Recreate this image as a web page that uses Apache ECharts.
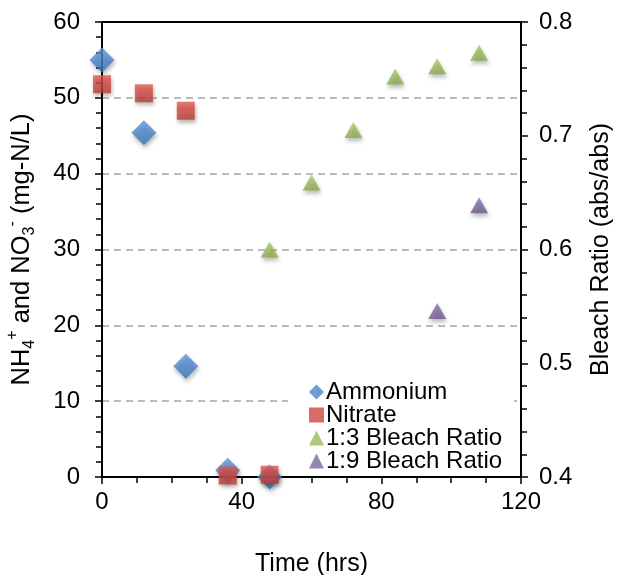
<!DOCTYPE html>
<html>
<head>
<meta charset="utf-8">
<script src="https://cdn.jsdelivr.net/npm/echarts@6/dist/echarts.min.js"></script>
<style>
html,body{margin:0;padding:0;background:#fff;}
#chart{width:619px;height:575px;}
</style>
</head>
<body>
<div id="chart"></div>
<script>
// Data
var ammoniumTime = [0, 12, 24, 36, 48];
var ammoniumValues = [55.0, 45.4, 14.6, 0.9, 0.0];
var nitrateTime = [0, 12, 24, 36, 48];
var nitrateValues = [51.8, 50.6, 48.3, 0.2, 0.3];
var bleach13Time = [48, 60, 72, 84, 96, 108];
var bleach13Values = [0.600, 0.659, 0.705, 0.752, 0.761, 0.773];
var bleach19Time = [96, 108];
var bleach19Values = [0.546, 0.639];
var seriesNames = ['Ammonium', 'Nitrate', '1:3 Bleach Ratio', '1:9 Bleach Ratio'];

function pairs(xs, ys) { return xs.map(function (x, i) { return [x, ys[i]]; }); }
function grad(top, bottom) {
  return new echarts.graphic.LinearGradient(0, 0, 0, 1, [
    { offset: 0, color: top }, { offset: 1, color: bottom }
  ]);
}
var FONT = 'Liberation Sans, Arial, sans-serif';
var shadow = { shadowBlur: 4, shadowColor: 'rgba(0,0,0,0.35)', shadowOffsetY: 3, shadowOffsetX: 1 };
var noShadow = { shadowBlur: 0, shadowOffsetY: 0, shadowOffsetX: 0 };

var chart = echarts.init(document.getElementById('chart'));
chart.setOption({
  animation: false,
  backgroundColor: '#fff',
  textStyle: { fontFamily: FONT, color: '#000' },
  grid: { left: 102, right: 98, top: 22, bottom: 98, containLabel: false, outerBoundsMode: 'none' },
  legend: {
    orient: 'vertical',
    left: 288, top: 377,
    padding: [3, 12, 3, 21],
    backgroundColor: '#fff',
    itemWidth: 15, itemHeight: 15, itemGap: -1,
    textStyle: { fontFamily: FONT, fontSize: 24, color: '#000', padding: [0, 0, 0, -3] },
    data: [
      { name: seriesNames[0], icon: 'diamond', itemStyle: Object.assign({ color: '#4A86C8' }, noShadow) },
      { name: seriesNames[1], icon: 'rect', itemStyle: Object.assign({ color: '#D0463F' }, noShadow) },
      { name: seriesNames[2], icon: 'triangle', itemStyle: Object.assign({ color: '#9BBB59' }, noShadow) },
      { name: seriesNames[3], icon: 'triangle', itemStyle: Object.assign({ color: '#8064A2' }, noShadow) }
    ]
  },
  xAxis: [
    {
      type: 'value', min: 0, max: 120, interval: 40, position: 'bottom',
      name: 'Time (hrs)', nameLocation: 'middle', nameGap: 75,
      nameTextStyle: { fontFamily: FONT, fontSize: 25, color: '#000' },
      axisLine: { show: true, onZero: false, lineStyle: { color: '#000', width: 2 } },
      axisTick: { show: true, inside: false, length: 7, lineStyle: { color: '#000', width: 1.5 } },
      minorTick: { show: true, splitNumber: 4, length: 6, lineStyle: { color: '#000', width: 1.5 } },
      axisLabel: { fontFamily: FONT, fontSize: 24, color: '#000', margin: 13 },
      splitLine: { show: false }
    },
    {
      type: 'value', min: 0, max: 120, interval: 40, position: 'top', z: 5,
      axisLine: { show: true, onZero: false, lineStyle: { color: '#000', width: 2 } },
      axisTick: { show: false }, minorTick: { show: false },
      axisLabel: { show: false }, splitLine: { show: false }
    }
  ],
  yAxis: [
    {
      type: 'value', min: 0, max: 60, interval: 10, position: 'left',
      name: '{m|NH}{sub|4}{sup|+}{m| and NO}{sub|3}{sup|-}{m| (mg-N/L)}',
      nameLocation: 'middle', nameRotate: 90, nameGap: 64,
      nameTextStyle: {
        fontFamily: FONT, color: '#000',
        rich: {
          m: { fontFamily: FONT, fontSize: 25.5, lineHeight: 33, color: '#000' },
          sup: { fontFamily: FONT, fontSize: 16, lineHeight: 16, verticalAlign: 'top', color: '#000' },
          sub: { fontFamily: FONT, fontSize: 16, lineHeight: 16, verticalAlign: 'bottom', color: '#000' }
        }
      },
      axisLine: { show: true, onZero: false, lineStyle: { color: '#000', width: 2 } },
      axisTick: { show: true, inside: false, length: 7, lineStyle: { color: '#000', width: 1.5 } },
      minorTick: { show: true, splitNumber: 5, length: 6, lineStyle: { color: '#000', width: 1.5 } },
      axisLabel: { fontFamily: FONT, fontSize: 24, color: '#000', margin: 22 },
      splitLine: { show: true, lineStyle: { color: '#A6A6A6', width: 1.5, type: [7, 5] } }
    },
    {
      type: 'value', min: 0.4, max: 0.8, interval: 0.1, position: 'right',
      name: 'Bleach Ratio (abs/abs)',
      nameLocation: 'middle', nameRotate: 90, nameGap: 68,
      nameTextStyle: { fontFamily: FONT, fontSize: 25, color: '#000' },
      axisLine: { show: true, onZero: false, lineStyle: { color: '#000', width: 2 } },
      axisTick: { show: true, inside: false, length: 7, lineStyle: { color: '#000', width: 1.5 } },
      minorTick: { show: true, splitNumber: 5, length: 6, lineStyle: { color: '#000', width: 1.5 } },
      axisLabel: { fontFamily: FONT, fontSize: 24, color: '#000', margin: 18, formatter: function (v) { return v.toFixed(1); } },
      splitLine: { show: false }
    }
  ],
  series: [
    {
      name: seriesNames[0], type: 'scatter', yAxisIndex: 0,
      symbol: 'diamond', symbolSize: 25,
      itemStyle: Object.assign({ color: grad('#5A97D8', '#3C75B8') }, shadow),
      data: pairs(ammoniumTime, ammoniumValues)
    },
    {
      name: seriesNames[1], type: 'scatter', yAxisIndex: 0,
      symbol: 'rect', symbolSize: 18,
      itemStyle: Object.assign({ color: grad('#E0554E', '#BF3A33') }, shadow),
      data: pairs(nitrateTime, nitrateValues)
    },
    {
      name: seriesNames[2], type: 'scatter', yAxisIndex: 1,
      symbol: 'triangle', symbolSize: [18, 16],
      itemStyle: Object.assign({ color: grad('#A9C866', '#8CAA48') }, shadow),
      data: pairs(bleach13Time, bleach13Values)
    },
    {
      name: seriesNames[3], type: 'scatter', yAxisIndex: 1,
      symbol: 'triangle', symbolSize: [18, 16],
      itemStyle: Object.assign({ color: grad('#8E72B2', '#705692') }, shadow),
      data: pairs(bleach19Time, bleach19Values)
    }
  ]
});
</script>
</body>
</html>
